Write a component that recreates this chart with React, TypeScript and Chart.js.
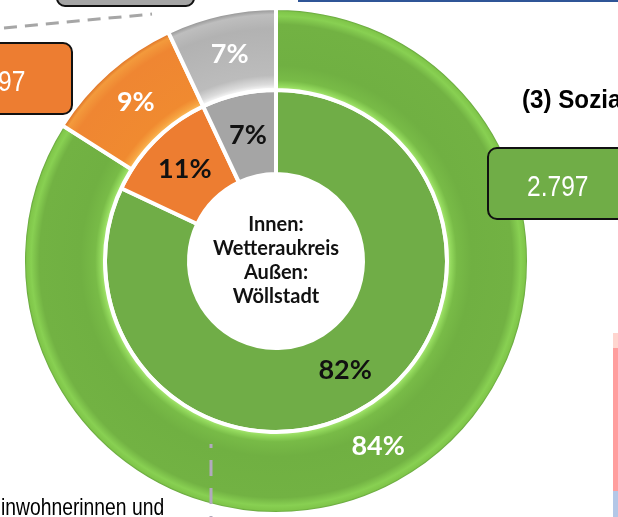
import React, { useEffect, useRef } from 'react';
import { Chart, registerables } from 'chart.js';

Chart.register(...registerables);

// ---- data ----
const categories = ['Gruppe 1', 'Gruppe 2', 'Gruppe 3'];
const outerValues = [84, 9, 7]; // Außen: Wöllstadt
const innerValues = [82, 11, 7]; // Innen: Wetteraukreis
const centerLines = ['Innen:', 'Wetteraukreis', 'Außen:', 'Wöllstadt'];
const greenBoxValue = '2.797';
const orangeBoxValue = '97';
const headingText = '(3) Sozia';
const footText = 'inwohnerinnen und';

// ---- styles ----
const innerColors = ['#70AD47', '#ED7D31', '#A5A5A5'];
const outerBase = ['#70B041', '#EF8530', '#B5B5B5'];
const outerStops: [number, string][][] = [
  [[0, '#b2ea7e'], [0.05, '#92d85c'], [0.12, '#78bb47'], [0.3, '#70b042'], [0.8, '#72b243'], [0.9, '#88d052'], [0.955, '#80c64a'], [0.985, '#5a9636'], [1, '#5a9636']],
  [[0, '#fbc060'], [0.06, '#f6a240'], [0.14, '#f08a30'], [0.8, '#ef8632'], [0.93, '#f39a3c'], [0.975, '#e0772a'], [1, '#e0772a']],
  [[0, '#ffffff'], [0.07, '#dcdcdc'], [0.18, '#bcbcbc'], [0.75, '#b2b2b2'], [0.92, '#bebebe'], [0.975, '#9a9a9a'], [1, '#9a9a9a']],
];

const RADIUS = 253;
const HOLE = 87;

function outerFill(c: any) {
  const chart = c.chart;
  const area = chart.chartArea;
  const idx = c.dataIndex ?? 0;
  if (!area) return outerBase[idx];
  const ctrl: any = chart.getDatasetMeta(c.datasetIndex).controller;
  const r0 = ctrl.innerRadius;
  const r1 = ctrl.outerRadius;
  if (!r1) return outerBase[idx];
  const cx = (area.left + area.right) / 2;
  const cy = (area.top + area.bottom) / 2;
  const g = chart.ctx.createRadialGradient(cx, cy, r0, cx, cy, r1);
  outerStops[idx].forEach(([t, col]) => g.addColorStop(t, col));
  return g;
}

const labelPlugin = {
  id: 'ringLabels',
  afterDatasetsDraw(chart: any) {
    const ctx = chart.ctx;
    ctx.save();
    ctx.textAlign = 'center';
    ctx.textBaseline = 'middle';
    chart.data.datasets.forEach((ds: any, di: number) => {
      const meta = chart.getDatasetMeta(di);
      meta.data.forEach((arc: any, i: number) => {
        const p = arc.tooltipPosition();
        ctx.font = 'bold 27px Lato, "Noto Sans", sans-serif';
        ctx.fillStyle = di === 0 ? '#ffffff' : '#111111';
        ctx.fillText(ds.data[i] + '%', p.x, p.y);
      });
    });
    const area = chart.chartArea;
    const cx = (area.left + area.right) / 2;
    const cy = (area.top + area.bottom) / 2;
    ctx.font = 'bold 20px Lato, "Noto Sans", sans-serif';
    ctx.fillStyle = '#111111';
    const lh = 24;
    centerLines.forEach((t, i) => {
      ctx.fillText(t, cx, cy + (i - (centerLines.length - 1) / 2) * lh);
    });
    ctx.restore();
  },
};

export default function App() {
  const ref = useRef<HTMLCanvasElement>(null);
  useEffect(() => {
    document.body.style.margin = '0';
    const canvas = ref.current!;
    const chart = new Chart(canvas, {
      type: 'doughnut',
      data: {
        labels: categories,
        datasets: [
          { data: outerValues, weight: 82, backgroundColor: outerFill, borderColor: '#ffffff', borderWidth: 4, clip: false } as any,
          { data: innerValues, weight: 84, backgroundColor: innerColors, borderColor: '#ffffff', borderWidth: 4, clip: false } as any,
        ],
      },
      options: {
        responsive: false,
        animation: false,
        radius: RADIUS,
        cutout: (HOLE / RADIUS) * 100 + '%',
        layout: { padding: { left: 0, right: 66, top: 5, bottom: 0 } },
        plugins: { legend: { display: false }, tooltip: { enabled: false } },
        events: [],
      } as any,
      plugins: [labelPlugin],
    });
    return () => chart.destroy();
  }, []);

  const sans = '"Liberation Sans", Arial, sans-serif';
  return (
    <div style={{ position: 'relative', width: 618, height: 517, overflow: 'hidden', background: '#fff' }}>
      <canvas ref={ref} width={618} height={517} style={{ position: 'absolute', left: 0, top: 0, display: 'block' }} />
      <svg width={618} height={517} style={{ position: 'absolute', left: 0, top: 0 }}>
        <rect x={298} y={0} width={320} height={2} fill="#2F5597" />
        <rect x={57} y={-20} width={137} height={26} rx={8} fill="#A5A5A5" stroke="#111" strokeWidth={2} />
        <line x1={4} y1={28} x2={152} y2={14} stroke="#A6A6A6" strokeWidth={3} strokeDasharray="13 8" />
        <rect x={-80} y={43} width={152} height={71} rx={9} fill="#ED7D31" stroke="#111" strokeWidth={2} />
        <g transform="translate(-2,91) scale(0.82,1)">
          <text x={0} y={0} fill="#ffffff" fontSize={30} fontFamily={sans}>{orangeBoxValue}</text>
        </g>
        <rect x={488} y={148} width={200} height={71} rx={9} fill="#70AD47" stroke="#111" strokeWidth={2} />
        <g transform="translate(527,196) scale(0.82,1)">
          <text x={0} y={0} fill="#ffffff" fontSize={30} fontFamily={sans}>{greenBoxValue}</text>
        </g>
        <g transform="translate(522,108) scale(0.93,1)">
          <text x={0} y={0} fill="#000" fontSize={26} fontWeight="bold" fontFamily={sans}>{headingText}</text>
        </g>
        <g transform="translate(1,515) scale(0.84,1)">
          <text x={0} y={0} fill="#000" fontSize={23} fontFamily={sans}>{footText}</text>
        </g>
        <line x1={211} y1={444} x2={211} y2={530} stroke="#B2A9BE" strokeWidth={3} strokeDasharray="16 12" strokeDashoffset={12} />
        <rect x={613} y={333} width={5} height={15} fill="#FFD5CF" />
        <rect x={613} y={348} width={5} height={143} fill="#FF9E9E" />
        <rect x={613} y={491} width={5} height={26} fill="#B4C7E7" />
      </svg>
    </div>
  );
}
